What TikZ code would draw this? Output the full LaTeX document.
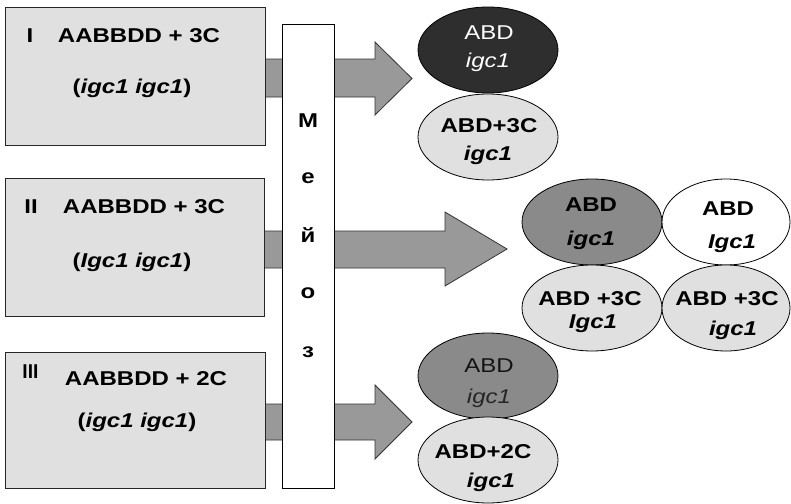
\documentclass[tikz,border=0pt]{standalone}
\usepackage{fontspec}
\setmainfont[FakeStretch=1.2]{Liberation Sans}
\usepackage{graphicx}
\usetikzlibrary{shapes.geometric}
\definecolor{boxgray}{HTML}{E0E0E0}
\definecolor{arrowgray}{HTML}{999999}
\definecolor{darkell}{HTML}{2E2E2E}
\definecolor{midell}{HTML}{8A8A8A}
\definecolor{lightell}{HTML}{E0E0E0}
\begin{document}
\begin{tikzpicture}[x=1pt,y=-1pt,
  genbox/.style={draw=black!85, line width=1.2pt, fill=boxgray, inner sep=0pt, anchor=north west},
  blockarrow/.style={draw=black!80, line width=0.8pt, fill=arrowgray},
  meiosis/.style={draw=black, line width=1pt, fill=white, inner sep=0pt, anchor=north west},
  lbl/.style={font=\fontsize{20}{24}\selectfont\bfseries, inner sep=0pt, anchor=base},
  rlbl/.style={font=\fontsize{20}{24}\selectfont, inner sep=0pt, anchor=base},
  cell/.style={ellipse, draw=black, line width=0.8pt, minimum width=140pt, minimum height=86pt, inner sep=0pt},
  cellR/.style={cell, minimum width=128pt}
]
\useasboundingbox (0,0) rectangle (791,503);

% block arrows (drawn first, under boxes and column)
\draw[blockarrow] (258,59) -- (375,59) -- (375,42) -- (412,78.5) -- (375,115) -- (375,97) -- (258,97) -- cycle;
\draw[blockarrow] (258,231) -- (445,231) -- (445,212) -- (507,249) -- (445,286) -- (445,268) -- (258,268) -- cycle;
\draw[blockarrow] (258,404) -- (375,404) -- (375,385) -- (412,422) -- (375,459) -- (375,440) -- (258,440) -- cycle;

% genotype boxes
\node[genbox, minimum width=260pt, minimum height=138pt] (b1) at (5,7) {};
\node[genbox, minimum width=259pt, minimum height=138pt] (b2) at (5,178) {};
\node[genbox, minimum width=260pt, minimum height=136pt] (b3) at (5,352) {};

% meiosis column
\node[meiosis, minimum width=52pt, minimum height=464pt] (col) at (282,24) {};

% box texts
\node[lbl] (t1n) at (30,42) {I};
\node[lbl] (t1a) at (139,42) {AABBDD + 3C};
\node[lbl] (t1g) at (132,93) {(\textit{igc1 igc1})};
\node[lbl] (t2n) at (31,213) {II};
\node[lbl] (t2a) at (144,213) {AABBDD + 3C};
\node[lbl] (t2g) at (132,267) {(\textit{Igc1 igc1})};
\node[lbl] (t3n) at (30.5,378) {\scalebox{0.8}[1]{III}};
\node[lbl] (t3a) at (146,385) {AABBDD + 2C};
\node[lbl] (t3g) at (137,427) {(\textit{igc1 igc1})};

% meiosis letters
\node[lbl] (m1) at (308,127) {М};
\node[lbl] (m2) at (308,183) {е};
\node[lbl] (m3) at (308,242) {й};
\node[lbl] (m4) at (308,298) {о};
\node[lbl] (m5) at (308,357) {з};

% gametes I
\node[cell, fill=darkell] (e1a) at (488,50) {};
\node[cell, fill=lightell] (e1b) at (488,137) {};
\node[rlbl, text=white] (e1a1) at (489,40) {ABD};
\node[rlbl, text=white] (e1a2) at (488,67) {\textit{igc1}};
\node[lbl] (e1b1) at (489,132) {ABD+3C};
\node[lbl] (e1b2) at (488,160) {\textit{igc1}};

% gametes II
\node[cell, fill=midell] (e2a) at (592,222) {};
\node[cellR, fill=white] (e2b) at (726,222) {};
\node[cell, fill=lightell] (e2c) at (592,308) {};
\node[cellR, fill=lightell] (e2d) at (726,308) {};
\node[lbl] (e2a1) at (591,211) {ABD};
\node[lbl] (e2a2) at (591,245) {\textit{igc1}};
\node[lbl] (e2b1) at (728,215) {ABD};
\node[lbl] (e2b2) at (732,248) {\textit{Igc1}};
\node[lbl] (e2c1) at (590,305) {ABD +3C};
\node[lbl] (e2c2) at (593,328) {\textit{Igc1}};
\node[lbl] (e2d1) at (727,305) {ABD +3C};
\node[lbl] (e2d2) at (733,335) {\textit{igc1}};

% gametes III
\node[cell, fill=midell] (e3a) at (488,376) {};
\node[cell, fill=lightell] (e3b) at (488,460) {};
\node[rlbl, text=black!92] (e3a1) at (489,372) {ABD};
\node[rlbl, text=black!85] (e3a2) at (489,403) {\textit{igc1}};
\node[lbl] (e3b1) at (483,458) {ABD+2C};
\node[lbl] (e3b2) at (491,487) {\textit{igc1}};
\end{tikzpicture}
\end{document}
